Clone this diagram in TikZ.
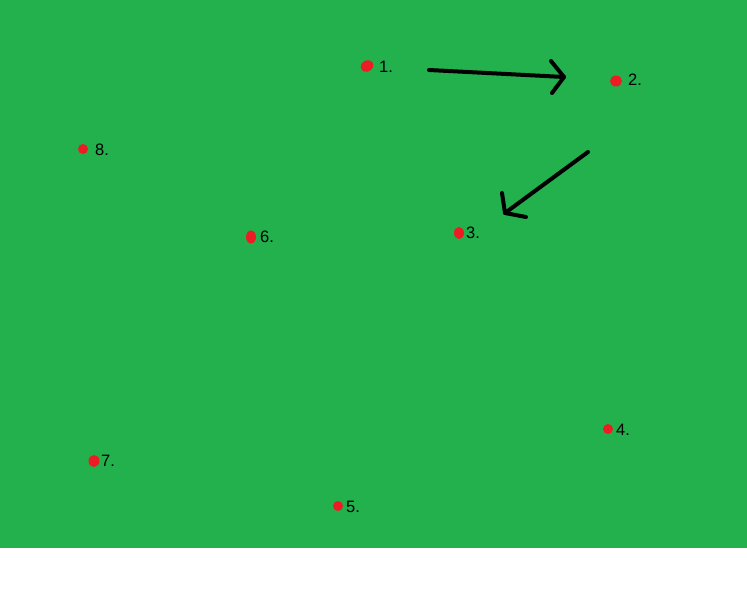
\documentclass[tikz,border=0pt]{standalone}
\usepackage{fontspec}
\setmainfont{Liberation Sans}
\usetikzlibrary{shapes.geometric}
\definecolor{paintgreen}{HTML}{22B14C}
\definecolor{paintred}{HTML}{ED1C24}
\begin{document}
\begin{tikzpicture}[x=1pt,y=-1pt,
  dotmark/.style={shape=ellipse,fill=paintred,draw=none,inner sep=0pt,minimum width=10pt,minimum height=10pt},
  lbl/.style={anchor=west,inner sep=0pt,font=\fontsize{16.5}{18}\selectfont},
  arr/.style={line width=4pt,line cap=round,line join=round,black}]
\useasboundingbox (0,0) rectangle (747,613);
\fill[paintgreen] (0,0) rectangle (747,548);
\node[dotmark,minimum width=13pt,minimum height=11pt,rotate=30] (d1) at (367,66) {};
\node[dotmark,minimum width=12pt,minimum height=11pt] (d2) at (616,81) {};
\node[dotmark,minimum width=10pt,minimum height=12pt] (d3) at (459,233) {};
\node[dotmark] (d4) at (608,429) {};
\node[dotmark] (d5) at (338,506) {};
\node[dotmark,minimum width=10pt,minimum height=13pt] (d6) at (251,237) {};
\node[dotmark,minimum width=11pt,minimum height=12pt] (d7) at (94,461) {};
\node[dotmark] (d8) at (83,149) {};
\node[lbl] (l1) at (379,67) {1.};
\node[lbl] (l2) at (628,80) {2.};
\node[lbl] (l3) at (466,233) {3.};
\node[lbl] (l4) at (616,430) {4.};
\node[lbl] (l5) at (346,507) {5.};
\node[lbl] (l6) at (260,237) {6.};
\node[lbl] (l7) at (101,461) {7.};
\node[lbl] (l8) at (95,150) {8.};
\coordinate (a1s) at (429,70);
\coordinate (a1e) at (564,77);
\coordinate (a1h1) at (551,61);
\coordinate (a1h2) at (552,93);
\coordinate (a2s) at (588,152);
\coordinate (a2e) at (505,213);
\coordinate (a2h1) at (502,193);
\coordinate (a2h2) at (526,217);
\draw[arr] (a1s) -- (a1e);
\draw[arr] (a1h1) -- (a1e) -- (a1h2);
\draw[arr] (a2s) -- (a2e);
\draw[arr] (a2h1) -- (a2e) -- (a2h2);
\end{tikzpicture}
\end{document}
